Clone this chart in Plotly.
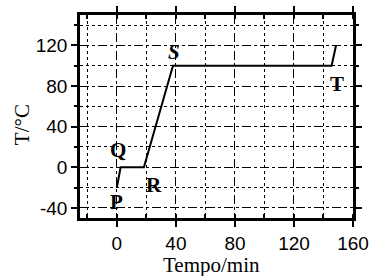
import plotly.graph_objects as go

time_min = [0, 2.5, 18.3, 38, 145.5, 148.5]
temp_c = [-20, 0, 0, 100, 100, 120]

point_labels = ["P", "Q", "R", "S", "T"]
label_x = [0, 0.5, 25, 39, 149]
label_y = [-34, 17, -17.5, 113.5, 82.5]
label_italic = [False, False, False, True, False]

x_ticks = [0, 40, 80, 120, 160]
x_ticktext = ["0", "40", "80", "120", "160"]
y_ticks = [-40, 0, 40, 80, 120]
y_ticktext = ["-40", "0", "40", "80", "120"]

x_title = "Tempo/min"
y_title = "T/°C"

fig = go.Figure()
fig.add_trace(go.Scatter(x=time_min, y=temp_c, mode="lines",
                         line=dict(color="black", width=2), showlegend=False,
                         hoverinfo="skip"))

for lab, lx, ly, it in zip(point_labels, label_x, label_y, label_italic):
    txt = f"<i><b>{lab}</b></i>" if it else f"<b>{lab}</b>"
    fig.add_annotation(x=lx, y=ly, text=txt, showarrow=False,
                       font=dict(family="Liberation Serif", size=21, color="#000000"),
                       xanchor="center", yanchor="middle")

title_font = dict(family="Liberation Serif", size=21, color="#000000")
fig.add_annotation(xref="paper", yref="paper", x=0.48, y=-0.232, text=x_title,
                   showarrow=False, xanchor="center", yanchor="middle", font=title_font)
fig.add_annotation(xref="paper", yref="paper", x=-0.212, y=0.458, text=y_title,
                   showarrow=False, xanchor="center", yanchor="middle", textangle=-90,
                   font=title_font)

axis_common = dict(
    showline=True, linecolor="black", linewidth=2.5, mirror="ticks",
    showgrid=True, gridcolor="black", gridwidth=1, griddash="dash",
    zeroline=False, ticks="outside", ticklen=6, tickwidth=1.5, tickcolor="black",
    tickfont=dict(family="Liberation Sans", size=19, color="#000000"),
    automargin=False,
)

fig.update_xaxes(**axis_common, range=[-25, 160], tickvals=x_ticks, ticktext=x_ticktext,
                 minor=dict(dtick=20, tick0=0, showgrid=True, gridcolor="black",
                            gridwidth=1, griddash="dot", ticks="inside",
                            ticklen=4, tickcolor="black"))
fig.update_yaxes(**axis_common, range=[-50, 150], tickvals=y_ticks, ticktext=y_ticktext,
                 minor=dict(dtick=20, tick0=0, showgrid=True, gridcolor="black",
                            gridwidth=1, griddash="dot", ticks="outside",
                            ticklen=3, tickcolor="black"))

fig.update_layout(width=372, height=276, margin=dict(l=80, r=19, t=15, b=58),
                  plot_bgcolor="white", paper_bgcolor="white")

fig.write_html("out.html", config={"displayModeBar": False},
               post_script="document.body.style.margin='0';")
